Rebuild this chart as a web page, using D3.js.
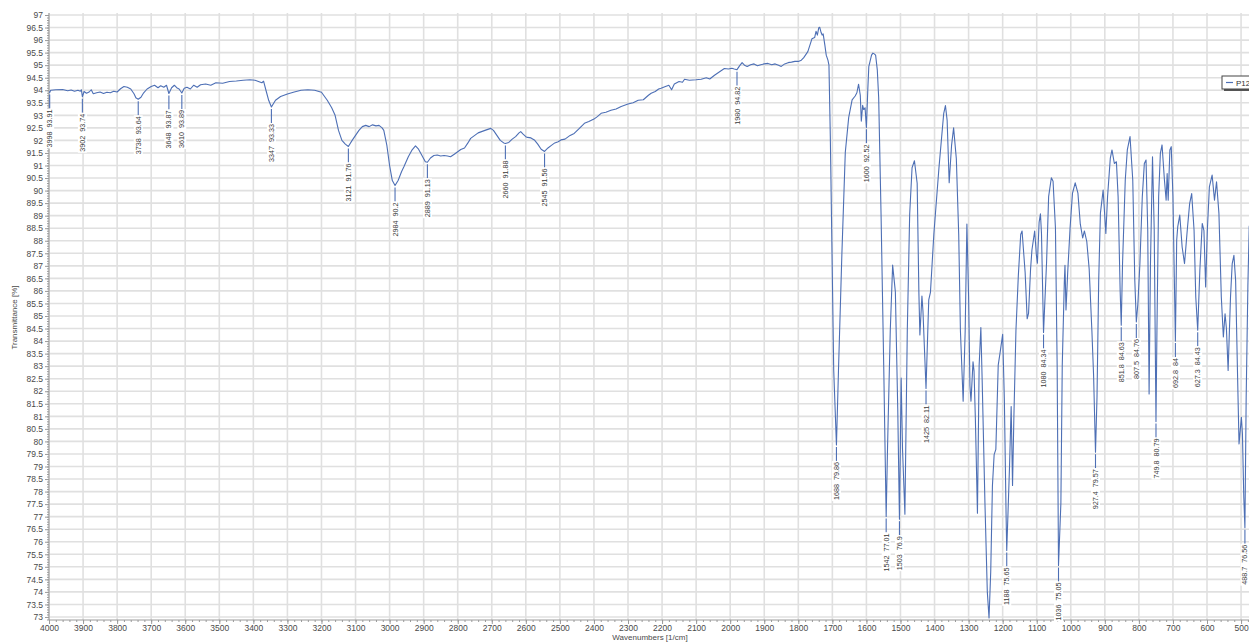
<!DOCTYPE html>
<html><head><meta charset="utf-8">
<script src="https://cdn.jsdelivr.net/npm/d3@7"></script>
<style>
html,body{margin:0;padding:0;background:#fff;overflow:hidden}
svg{display:block;font-family:"Liberation Sans",Arial,sans-serif}
</style></head>
<body><svg id="c" width="1249" height="644"></svg>
<script>
// Spectrum: wavenumber [1/cm] and transmittance [%]
const wavenumbers = [4000,3998,3995,3980,3960,3945,3935,3925,3915,3908,3905,3902,3897,3890,3882,3876,3870,3860,3850,3840,3830,3820,3810,3800,3790,3780,3770,3760,3750,3745,3738,3730,3722,3712,3700,3690,3680,3672,3663,3655,3648,3640,3632,3625,3618,3610,3603,3595,3585,3575,3565,3555,3540,3525,3510,3490,3470,3450,3430,3410,3395,3385,3375,3370,3363,3355,3347,3335,3320,3300,3280,3260,3240,3220,3200,3183,3170,3160,3150,3140,3130,3121,3110,3100,3090,3080,3070,3060,3050,3040,3031,3022,3017,3008,3000,2992,2984,2975,2965,2958,2945,2935,2924,2915,2905,2895,2889,2880,2870,2860,2850,2840,2830,2821,2810,2800,2791,2780,2770,2762,2750,2740,2720,2703,2695,2685,2675,2665,2660,2650,2640,2630,2620,2615,2608,2600,2595,2585,2575,2565,2555,2545,2535,2525,2515,2505,2497,2485,2470,2458,2445,2428,2415,2400,2390,2379,2365,2350,2335,2320,2300,2285,2270,2255,2240,2232,2220,2210,2203,2190,2180,2172,2164,2150,2140,2134,2120,2100,2085,2070,2060,2046,2030,2017,2005,1995,1988,1980,1972,1965,1958,1950,1940,1930,1920,1910,1900,1889,1878,1868,1858,1850,1840,1830,1820,1810,1800,1791,1784,1772,1760,1752,1748,1744,1740,1737,1733,1730,1727,1722,1718,1713,1710,1706,1701,1696,1688,1682,1672,1662,1652,1642,1633,1628,1623,1618,1615,1611,1608,1604,1600,1596,1593,1585,1581,1577,1573,1568,1564,1557,1549,1542,1538,1530,1523,1515,1508,1503,1498,1494,1487,1480,1473,1466,1459,1451,1446,1443,1437,1434,1425,1417,1412,1402,1387,1373,1368,1363,1357,1350,1344,1336,1329,1324,1316,1310,1305,1300,1296,1293,1287,1284,1280,1274,1269,1264,1260,1252,1245,1240,1235,1230,1225,1220,1213,1207,1200,1195,1190,1188,1185,1180,1175,1171,1167,1161,1154,1147,1143,1134,1128,1124,1118,1114,1106,1101,1098,1093,1089,1086,1080,1071,1065,1057,1052,1045,1040,1036,1029,1025,1019,1017,1014,1009,1002,995,987,979,972,965,960,953,946,938,933,927.4,923,918,913,905,897,892,884,879,872,866,861,855,851.8,848,840,834,826,818,812,807.5,803,797,790,784,779,774,770,766,760,755,749.8,747,742,737,732,725,720,717,714,709,705,700,692.8,689,686,680,673,666,658,651,645,638,633,627.3,621,614,609,604,599,593,585,578,572,565,558,552,547,543,538,531,526,521,516,511,506,499,496,492,488.7,485,480,476];
const transmittance = [93.95,93.91,94.0,94.02,94.03,93.98,94.01,93.96,94.0,93.96,94.02,93.74,93.95,93.88,93.93,94.02,93.86,93.9,93.93,93.87,93.92,93.9,93.96,93.93,94.06,94.15,94.12,94.05,93.85,93.7,93.64,93.72,93.9,94.05,94.15,94.2,94.1,94.18,94.12,94.2,93.87,94.1,94.2,94.1,94.05,93.89,94.08,94.12,94.05,94.2,94.12,94.22,94.25,94.2,94.3,94.28,94.35,94.37,94.4,94.42,94.4,94.35,94.3,94.36,94.0,93.6,93.33,93.6,93.75,93.85,93.93,94.0,94.02,94.0,93.92,93.6,93.3,93.0,92.4,92.0,91.85,91.76,92.0,92.2,92.4,92.55,92.6,92.55,92.62,92.58,92.6,92.5,92.4,91.8,91.0,90.4,90.2,90.4,90.75,90.95,91.35,91.6,91.78,91.65,91.4,91.15,91.13,91.3,91.4,91.42,91.38,91.4,91.38,91.35,91.45,91.55,91.64,91.7,91.9,92.08,92.2,92.3,92.4,92.48,92.4,92.2,92.0,91.9,91.88,91.92,92.05,92.15,92.3,92.35,92.25,92.15,92.12,92.1,92.02,91.85,91.65,91.56,91.7,91.8,91.9,91.95,92.02,92.05,92.2,92.28,92.45,92.68,92.75,92.85,92.95,93.08,93.12,93.2,93.25,93.35,93.45,93.5,93.6,93.62,93.8,93.88,93.95,94.05,94.08,94.15,94.2,94.02,94.25,94.35,94.32,94.44,94.4,94.42,94.44,94.5,94.45,94.6,94.75,94.87,94.85,94.88,94.85,94.82,94.98,95.1,95.0,94.95,95.02,95.05,94.98,95.02,95.05,95.07,95.02,95.05,95.0,94.95,95.05,95.1,95.12,95.15,95.15,95.2,95.3,95.54,96.05,96.1,96.35,96.2,96.49,96.51,96.3,96.2,96.25,95.8,95.4,95.2,95.0,92.15,87.49,82.84,79.86,82.84,87.49,91.53,92.92,93.62,93.77,93.9,94.24,93.8,92.77,93.4,93.23,93.3,92.52,94.0,94.94,95.4,95.48,95.45,95.4,94.8,93.7,89.05,82.84,77.01,79.74,84.4,87.03,85.96,81.3,76.9,82.53,79.7,77.1,84.4,89.05,90.91,91.19,90.29,85.96,84.24,85.8,85.2,82.11,85.64,85.94,88.27,90.91,93.08,93.39,92.8,90.31,91.8,92.5,91.27,88.25,84.41,81.6,84.41,88.67,85.78,82.22,81.6,83.17,82.8,80.84,77.14,83.04,84.54,82.35,77.55,73.99,72.96,74.81,78.24,79.47,79.68,83.04,83.59,84.27,81.67,77.14,75.65,76.86,78.92,81.39,78.24,80.98,84.41,86.6,88.25,88.39,86.74,84.89,85.1,86.88,87.63,88.39,87.43,87.1,88.73,89.07,88.3,84.34,87.15,89.76,90.51,90.37,88.52,83.04,75.05,77.55,83.04,86.33,87.02,85.24,86.74,88.52,89.89,90.31,89.9,88.66,88.11,88.39,87.97,86.88,84.41,82.63,79.57,81.76,86.42,89.09,90.02,88.29,89.75,91.28,91.62,91.08,91.15,89.75,86.0,84.63,87.09,90.42,91.62,92.15,90.42,86.42,84.76,85.49,87.09,89.75,91.08,91.22,88.42,81.89,87.09,91.35,88.43,80.79,84.42,89.75,91.48,91.82,90.42,89.62,90.68,89.62,91.62,91.75,89.75,84.0,88.02,88.55,89.02,87.75,87.09,88.42,89.48,89.88,88.42,85.76,84.43,86.82,88.69,88.4,86.16,88.42,90.15,90.62,89.62,90.35,89.09,85.76,84.16,85.09,84.5,82.83,85.76,87.09,87.42,86.42,83.09,79.9,80.96,80.3,77.77,76.56,81.76,86.2,88.6];

// Labelled peaks
const peakWn  = [3998,3902,3738,3648,3610,3347,3121,2984,2889,2660,2545,1980,1688,1600,1542,1503,1425,1188,1080,1036,927.4,851.8,807.5,749.8,692.8,627.3,488.7];
const peakVal = [93.91,93.74,93.64,93.87,93.89,93.33,91.76,90.2,91.13,91.88,91.56,94.82,79.86,92.52,77.01,76.9,82.11,75.65,84.34,75.05,79.57,84.63,84.76,80.79,84,84.43,76.56];

const yTicks = d3.range(73, 97.001, 0.5);
const xTicks = d3.range(4000, 499, -100);
const seriesName = "P12";

const svg = d3.select("#c");
const W = 1249, H = 644;
const L = 49, R = 1249, T = 15, B = 620;
const x = d3.scaleLinear().domain([4000, 476.7]).range([L, R]);
const y = d3.scaleLinear().domain([72.88, 97]).range([B, T]);
const blue = "#4d6fb5";

svg.append("rect").attr("width", W).attr("height", H).attr("fill", "#fff");

// grid
const grid = svg.append("g").attr("stroke", "#e0e0e0").attr("stroke-width", 1.6);
yTicks.forEach(v => grid.append("line").attr("x1", L).attr("x2", R).attr("y1", y(v)).attr("y2", y(v)));
xTicks.forEach(w => grid.append("line").attr("x1", x(w)).attr("x2", x(w)).attr("y1", T - 2).attr("y2", B));

// axes
const axisCol = "#9a9a9a";
const yMinor = svg.append("g").attr("transform", `translate(${L},0)`)
  .call(d3.axisLeft(y).tickValues(d3.range(72.9, 97.05, 0.1)).tickSize(2).tickFormat(""));
const yMajor = svg.append("g").attr("transform", `translate(${L},0)`)
  .call(d3.axisLeft(y).tickValues(yTicks).tickSize(4).tickPadding(2).tickFormat(d => String(+d.toFixed(1))));
const xMinor = svg.append("g").attr("transform", `translate(0,${B})`)
  .call(d3.axisBottom(x).tickValues(d3.range(4000, 477, -20)).tickSize(2).tickFormat(""));
const xMajor = svg.append("g").attr("transform", `translate(0,${B})`)
  .call(d3.axisBottom(x).tickValues(xTicks).tickSize(4).tickPadding(1).tickFormat(d3.format("d")));
[yMinor, yMajor, xMinor, xMajor].forEach(g => {
  g.select(".domain").remove();
  g.selectAll("line").attr("stroke", axisCol);
  g.selectAll("text").attr("fill", "#4a4a4a").style("font-size", "8.5px")
   .style("font-family", "'Liberation Sans',Arial,sans-serif");
});
svg.append("line").attr("x1", L).attr("x2", L).attr("y1", T - 2).attr("y2", B).attr("stroke", axisCol);
svg.append("line").attr("x1", L).attr("x2", R).attr("y1", B).attr("y2", B).attr("stroke", axisCol);

// axis titles
svg.append("text").attr("transform", `translate(17,${(T + B) / 2}) rotate(-90)`)
  .attr("text-anchor", "middle").attr("fill", "#4a4a4a").style("font-size", "8px").text("Transmittance [%]");
svg.append("text").attr("x", 650).attr("y", 640).attr("text-anchor", "middle")
  .attr("fill", "#4a4a4a").style("font-size", "8px").text("Wavenumbers [1/cm]");

// spectrum
svg.append("clipPath").attr("id", "pc").append("rect").attr("x", L).attr("y", T - 3).attr("width", R - L).attr("height", B - T + 3);
const pts = wavenumbers.map((w, i) => [w, transmittance[i]]);
svg.append("path").datum(pts).attr("clip-path", "url(#pc)")
  .attr("fill", "none").attr("stroke", blue).attr("stroke-width", 1.1).attr("stroke-linejoin", "round")
  .attr("d", d3.line().x(d => x(d[0])).y(d => y(d[1])));

// peak labels
const lab = svg.append("g");
peakWn.forEach((w, i) => {
  const px = x(w), py = y(peakVal[i]);
  lab.append("line").attr("x1", px).attr("x2", px).attr("y1", py + 2).attr("y2", py + 16)
    .attr("stroke", blue).attr("stroke-width", 1.1);
  const g = lab.append("g").attr("transform", `translate(${px},${py + 17}) rotate(-90)`);
  const r = g.append("rect").attr("fill", "#fff");
  const t = g.append("text").attr("text-anchor", "end").attr("dy", "0.35em")
    .attr("fill", "#3a3a3a").style("font-size", "7.2px").style("white-space", "pre")
    .text(w + "  " + peakVal[i]);
  const len = t.node().getComputedTextLength();
  r.attr("x", -len - 1).attr("y", -4.5).attr("width", len + 2).attr("height", 9);
});

// legend (partly outside the window, as in the original)
const lg = svg.append("g");
lg.append("rect").attr("x", 1224).attr("y", 78).attr("width", 40).attr("height", 13).attr("fill", "#555");
lg.append("rect").attr("x", 1222).attr("y", 76).attr("width", 40).attr("height", 13).attr("fill", "#fff").attr("stroke", "#444").attr("stroke-width", 1);
lg.append("line").attr("x1", 1226).attr("x2", 1233).attr("y1", 82.5).attr("y2", 82.5).attr("stroke", blue).attr("stroke-width", 1.2);
lg.append("text").attr("x", 1236).attr("y", 85.5).attr("fill", "#333").style("font-size", "8px").text(seriesName);
</script></body></html>
